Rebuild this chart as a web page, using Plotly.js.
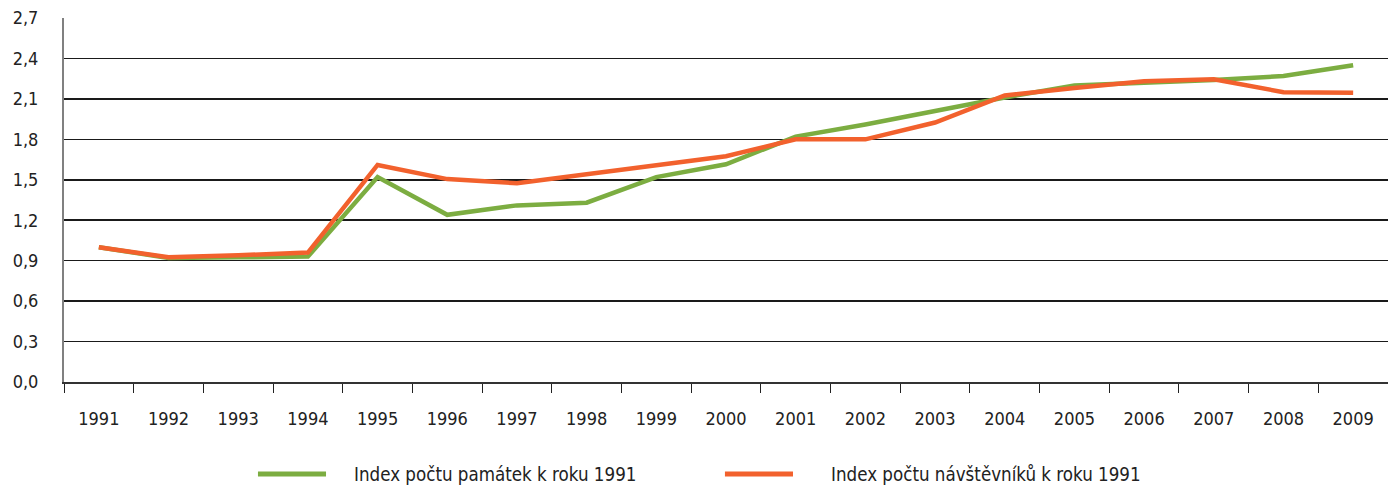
<!DOCTYPE html>
<html>
<head>
<meta charset="utf-8">
<script src="https://cdn.plot.ly/plotly-3.0.1.min.js"></script>
<style>html,body{margin:0;padding:0;background:#fff;}#chart{width:1388px;height:488px;}</style>
</head>
<body>
<div id="chart"></div>
<script>
var years = ['1991','1992','1993','1994','1995','1996','1997','1998','1999','2000','2001','2002','2003','2004','2005','2006','2007','2008','2009'];
var pamatky = [1.00,0.92,0.925,0.93,1.52,1.24,1.31,1.33,1.52,1.615,1.82,1.91,2.01,2.11,2.20,2.22,2.24,2.27,2.35];
var navstevnici = [1.00,0.925,0.94,0.96,1.61,1.505,1.475,1.54,1.61,1.675,1.80,1.80,1.925,2.125,2.18,2.23,2.245,2.15,2.145];
var seriesNames = ['Index počtu památek k roku 1991','Index počtu návštěvníků k roku 1991'];
var seriesColors = ['#7cad41','#f2612d'];
var yTicks = [0,0.3,0.6,0.9,1.2,1.5,1.8,2.1,2.4,2.7];

var font = 'DejaVu Sans Condensed, Liberation Sans Narrow, sans-serif';
var fs = 18;
var traces = [
  {x: years, y: pamatky, name: seriesNames[0], type: 'scatter', mode: 'lines',
   line: {color: seriesColors[0], width: 4.5}},
  {x: years, y: navstevnici, name: seriesNames[1], type: 'scatter', mode: 'lines',
   line: {color: seriesColors[1], width: 4.5}}
];

// legend drawn as shapes + annotations (paper coordinates)
var legendY = -0.253;
var legendLine = [[0.1465, 0.1979], [0.4992, 0.5506]];
var legendText = [0.2175, 0.5778];
var shapes = [], annotations = [];
for (var i = 0; i < 2; i++) {
  shapes.push({type: 'line', xref: 'paper', yref: 'paper',
    x0: legendLine[i][0], x1: legendLine[i][1], y0: legendY, y1: legendY,
    line: {color: seriesColors[i], width: 5}});
  annotations.push({xref: 'paper', yref: 'paper', x: legendText[i], y: legendY,
    xanchor: 'left', yanchor: 'middle', showarrow: false, text: seriesNames[i],
    font: {family: font, size: 18.6, color: '#222'}});
}

var layout = {
  width: 1388, height: 488,
  margin: {l: 64, r: 0, t: 18, b: 106, autoexpand: false},
  paper_bgcolor: '#fff', plot_bgcolor: '#fff',
  separators: ', ',
  font: {family: font, size: fs, color: '#222'},
  showlegend: false,
  shapes: shapes,
  annotations: annotations,
  xaxis: {type: 'category', range: [-0.5, 18.5], tickson: 'boundaries',
    ticks: 'outside', ticklen: 9, tickcolor: '#222', tickwidth: 1,
    showline: true, linecolor: '#333', linewidth: 1.5,
    showgrid: false, zeroline: false, ticklabelstandoff: 20,
    tickfont: {family: font, size: fs, color: '#222'}, fixedrange: true},
  yaxis: {range: [0, 2.7], tickvals: yTicks, tickformat: '.1f',
    showgrid: true, gridcolor: '#1a1a1a', gridwidth: 1.5,
    showline: true, linecolor: '#808080', linewidth: 2,
    zeroline: false, ticks: '', ticklabelstandoff: 20,
    tickfont: {family: font, size: fs, color: '#222'}, fixedrange: true}
};
Plotly.newPlot('chart', traces, layout, {displayModeBar: false, staticPlot: true});
</script>
</body>
</html>
